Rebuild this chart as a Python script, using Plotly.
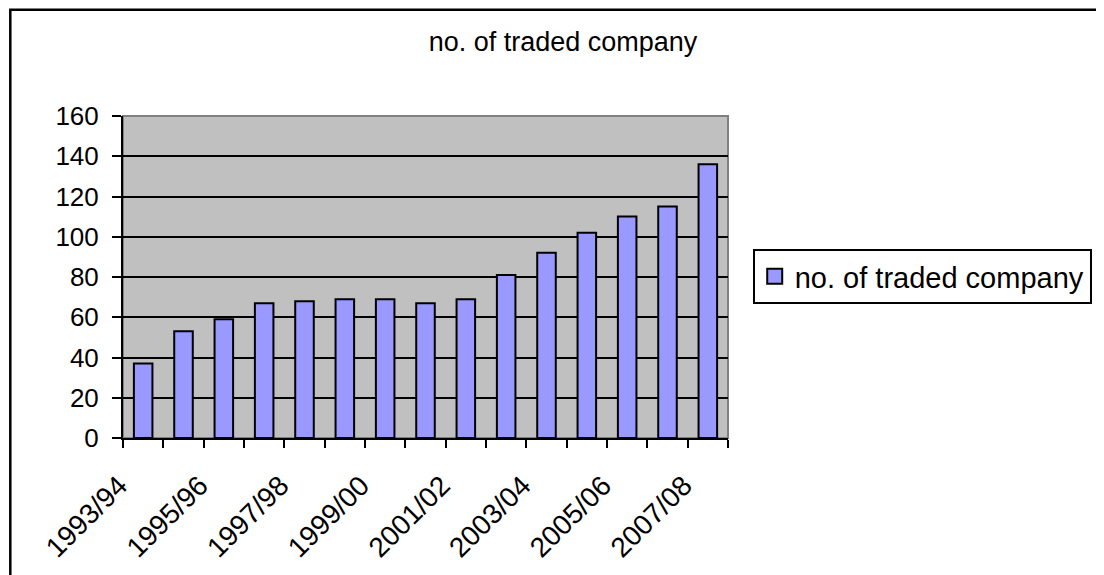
import plotly.graph_objects as go

# data
years = [
    "1993/94", "1994/95", "1995/96", "1996/97", "1997/98",
    "1998/99", "1999/00", "2000/01", "2001/02", "2002/03",
    "2003/04", "2004/05", "2005/06", "2006/07", "2007/08",
]
traded = [37, 53, 59, 67, 68, 69, 69, 67, 69, 81, 92, 102, 110, 115, 136]
series_name = "no. of traded company"
y_ticks = [0, 20, 40, 60, 80, 100, 120, 140, 160]

# every other year gets a label, every category gets a tick
x_labels = [y if i % 2 == 0 else "" for i, y in enumerate(years)]

# the page puts the figure 8px in from the top left corner
OFF = 8
W, H = 1104 - OFF, 575 - OFF
L, R, T, B = 123, 735, 116, 440  # plot area, page pixels
FONT = "Arial, Liberation Sans, sans-serif"
BAR = "#9999ff"


def px_x(p):
    return (p - L) / (R - L)


def px_y(p):
    return (B - p) / (B - T)


fig = go.Figure()
fig.add_trace(go.Bar(
    x=years, y=traded, name=series_name,
    marker=dict(color=BAR, line=dict(color="black", width=2)),
    showlegend=False,
))
# legend entry with a bigger swatch than the default bar symbol
fig.add_trace(go.Scatter(
    x=[None], y=[None], mode="markers", name=series_name,
    marker=dict(symbol="square", size=15, color=BAR,
                line=dict(color="black", width=2)),
    showlegend=True, hoverinfo="skip",
))

fig.update_layout(
    width=W, height=H,
    margin=dict(l=L - OFF, r=W - (R - OFF), t=T - OFF, b=H - (B - OFF), pad=0),
    paper_bgcolor="white",
    plot_bgcolor="#c0c0c0",
    bargap=0.54,
    font=dict(family=FONT, size=26, color="black"),
    title=dict(
        text=series_name, xref="container", yref="container",
        x=(563 - OFF) / W, y=1 - (42 - OFF) / H,
        xanchor="center", yanchor="middle",
        font=dict(family=FONT, size=27, color="black"),
    ),
    xaxis=dict(
        type="category", tickvals=years, ticktext=x_labels,
        tickson="boundaries", ticks="outside", ticklen=8, tickwidth=2,
        tickcolor="black", tickangle=-45,
        showline=True, linecolor="black", linewidth=2,
        showgrid=False, tickfont=dict(size=28),
        ticklabelstandoff=18, ticklabelshift=-24,
    ),
    yaxis=dict(
        range=[0, 160], tickvals=y_ticks,
        ticks="outside", ticklen=9, tickwidth=2, tickcolor="black",
        showline=True, linecolor="black", linewidth=2,
        showgrid=False, zeroline=False, tickfont=dict(size=26),
        ticklabelstandoff=8,
        # inner grid only, the top edge stays grey like the frame
        minor=dict(tickvals=y_ticks[1:-1], showgrid=True,
                   gridcolor="black", gridwidth=2, ticks=""),
    ),
    legend=dict(
        x=px_x(760), y=px_y(277.5), xanchor="left", yanchor="middle",
        bgcolor="white", bordercolor="black", borderwidth=2,
        font=dict(family=FONT, size=29),
    ),
    shapes=[
        # grey frame of the plot area (top and right)
        dict(type="rect", xref="paper", yref="paper", x0=0, x1=1, y0=0, y1=1,
             line=dict(color="#808080", width=2), layer="below"),
        # outer chart border
        dict(type="rect", xref="paper", yref="paper",
             x0=px_x(OFF + 1), x1=px_x(1112), y0=px_y(583), y1=px_y(OFF + 1),
             line=dict(color="black", width=2.5)),
    ],
)

fig.write_html("out.html")
